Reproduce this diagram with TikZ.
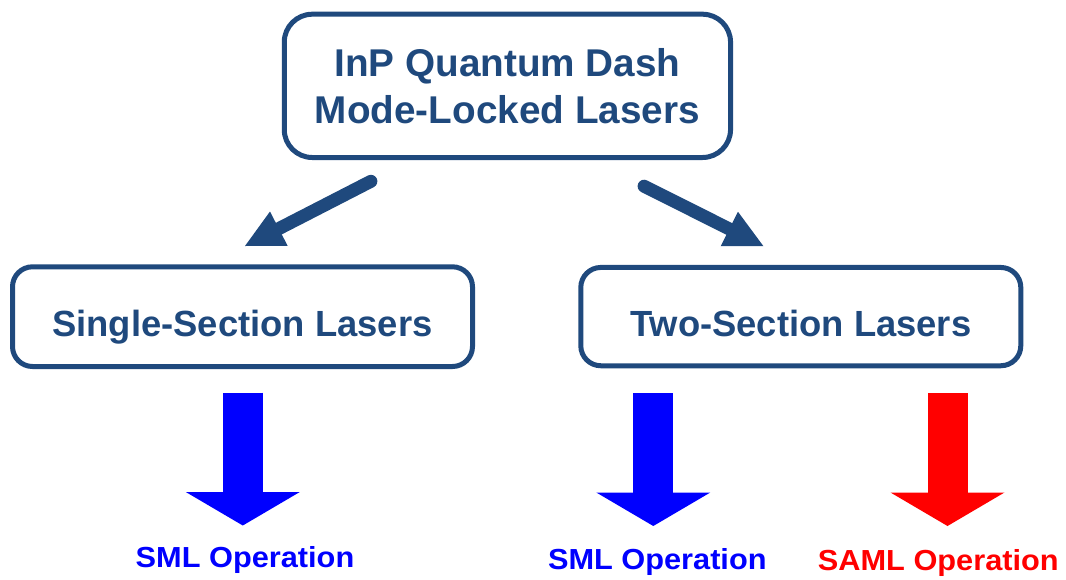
\documentclass[tikz,border=0pt]{standalone}
\usepackage{fontspec}
\setmainfont{Liberation Sans}
\newfontfamily\lblfont[FakeStretch=1.06]{Liberation Sans}
\usetikzlibrary{arrows.meta}
\definecolor{dblue}{HTML}{1F497D}
\definecolor{pblue}{HTML}{0000FF}
\definecolor{pred}{HTML}{FF0000}
\begin{document}
\begin{tikzpicture}[x=1pt,y=1pt,
  topbox/.style={draw=dblue, line width=5pt, rounded corners=28pt, text=dblue,
    font=\fontsize{38.7}{46.7}\selectfont\bfseries, align=center, inner sep=0pt},
  subbox/.style={draw=dblue, line width=5pt, rounded corners=20pt, text=dblue,
    font=\fontsize{36.4}{44}\selectfont\bfseries, inner sep=0pt,
    text height=40pt, text depth=0pt},
  thinarrow/.style={draw=dblue, line width=13pt, line cap=round,
    -{Triangle[width=38.5pt,length=38pt,line width=0pt]}},
  blockarrow/.style={line width=40pt,
    -{Triangle[width=114pt,length=33.5pt,line width=0pt]}},
  oplabel/.style={anchor=base, inner sep=0pt, font=\lblfont\fontsize{29}{34}\selectfont\bfseries}
]
\useasboundingbox (0,0) rectangle (1066,-579);

\node[topbox, minimum width=446.3pt, minimum height=143.3pt] (top) at (507.4,-85.85)
  {InP Quantum Dash\\Mode-Locked Lasers};
\node[subbox, minimum width=460pt, minimum height=99.7pt] (single) at (242.5,-316.65)
  {Single-Section Lasers};
\node[subbox, minimum width=440pt, minimum height=98.3pt] (two) at (800.8,-316.6)
  {Two-Section Lasers};

\coordinate (ls) at (370.9,-181.3);
\coordinate (le) at (245,-246);
\coordinate (rs) at (644.1,-186.2);
\coordinate (re) at (763.3,-246);
\draw[thinarrow] (ls) -- (le);
\draw[thinarrow] (rs) -- (re);

\node[oplabel, text=pblue] (sml1) at (245,-567.3) {SML Operation};
\node[oplabel, text=pblue] (sml2) at (657.3,-569.3) {SML Operation};
\node[oplabel, text=pred] (saml) at (938.3,-570) {SAML Operation};

\coordinate (b1s) at (242.8,-392.5);
\coordinate (b1e) at (242.8,-525.5);
\coordinate (b2s) at (653.3,-393);
\coordinate (b2e) at (653.3,-526);
\coordinate (b3s) at (947.5,-393);
\coordinate (b3e) at (947.5,-526);
\draw[blockarrow, draw=pblue] (b1s) -- (b1e);
\draw[blockarrow, draw=pblue] (b2s) -- (b2e);
\draw[blockarrow, draw=pred] (b3s) -- (b3e);
\end{tikzpicture}
\end{document}
